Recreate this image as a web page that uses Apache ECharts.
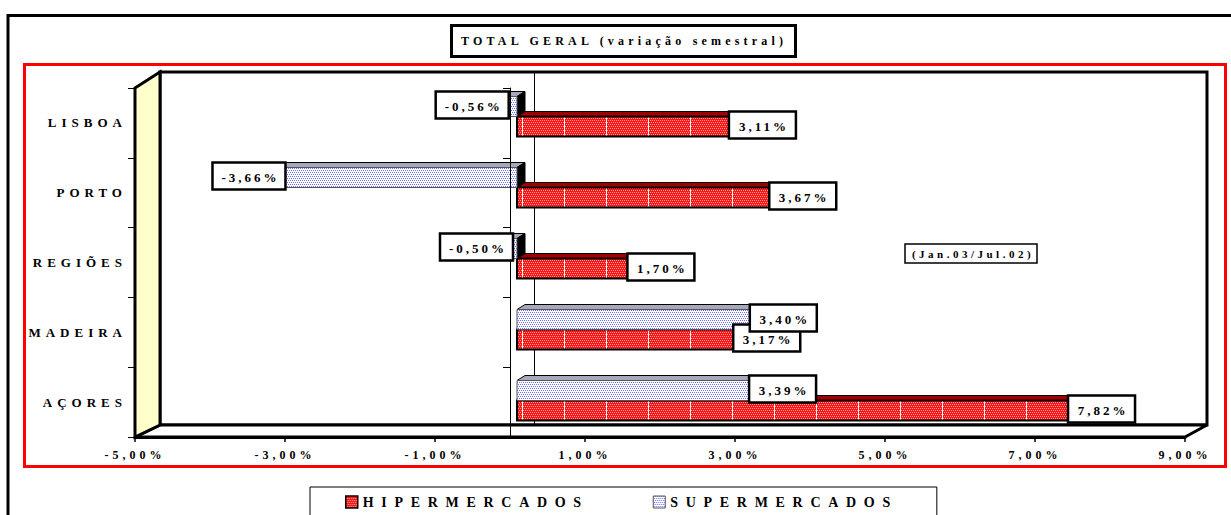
<!DOCTYPE html>
<html><head><meta charset="utf-8">
<script src="https://cdn.jsdelivr.net/npm/echarts@6/dist/echarts.min.js"></script>
<style>html,body{margin:0;padding:0;background:#fff}#c{width:1231px;height:515px}</style>
</head><body><div id="c"></div>
<script>
// ---------- data ----------
const categories = ['LISBOA', 'PORTO', 'REGIÕES', 'MADEIRA', 'AÇORES'];
const hiperValues = [3.11, 3.67, 1.70, 3.17, 7.82];
const superValues = [-0.56, -3.66, -0.50, 3.40, 3.39];
const axisTicks = [-5, -3, -1, 1, 3, 5, 7, 9];
const seriesNames = ['HIPERMERCADOS', 'SUPERMERCADOS'];
const titleText = 'TOTAL GERAL (variação semestral)';
const noteText = '(Jan.03/Jul.02)';

// ---------- styles ----------
const FONT = '"Liberation Serif", "Times New Roman", serif';
const pct = v => v.toFixed(2).replace('.', ',') + '%';

function makeRed(w, line) {
  const c = document.createElement('canvas'); c.width = w; c.height = 4;
  const g = c.getContext('2d');
  g.fillStyle = '#ff1414'; g.fillRect(0, 0, w, 4);
  g.fillStyle = '#ffa0a0';
  for (let y = 0; y < 4; y += 2) for (let x = (y / 2) % 2; x < w; x += 2) g.fillRect(x, y, 1, 1);
  if (line) { g.fillStyle = '#ffffff'; g.fillRect(18, 0, 1, 4); }
  return c;
}
function makeBlue() {
  const c = document.createElement('canvas'); c.width = 4; c.height = 4;
  const g = c.getContext('2d');
  g.fillStyle = '#ffffff'; g.fillRect(0, 0, 4, 4);
  g.fillStyle = '#6a6aff';
  [[0,0],[2,0],[1,2],[3,2]].forEach(p => g.fillRect(p[0], p[1], 1, 1));
  return c;
}
const redFill = { image: makeRed(42, true), repeat: 'repeat' };
const redIcon = { image: makeRed(4, false), repeat: 'repeat' };
const blueFill = { image: makeBlue(), repeat: 'repeat' };

const DX = 8, DY = -5, BAR_H = 20;
function barGeom(api, kind) {
  const v = api.value(0), idx = api.value(1);
  const p0 = api.coord([0, idx]), p1 = api.coord([v, idx]);
  const ctr = p0[1] + 1;
  const top = kind === 'super' ? ctr - BAR_H : ctr;
  return { v, x0: Math.min(p0[0], p1[0]), x1: Math.max(p0[0], p1[0]), end: p1[0], top, bot: top + BAR_H };
}
function renderBar(kind) {
  const st = kind === 'hiper'
    ? { front: redFill, top: '#a00000', end: '#5a0000', stroke: '#000', lw: 2 }
    : { front: blueFill, top: '#a8a8bc', end: '#000000', stroke: '#555', lw: 1 };
  return (params, api) => {
    const g = barGeom(api, kind);
    const { x0, x1, top, bot } = g;
    return { type: 'group', children: [
      { type: 'polygon', shape: { points: [[x0, top], [x0 + DX, top + DY], [x1 + DX, top + DY], [x1, top]] },
        style: { fill: st.top, stroke: '#000', lineWidth: 1 } },
      { type: 'polygon', shape: { points: [[x1, top], [x1 + DX, top + DY], [x1 + DX, bot + DY], [x1, bot]] },
        style: { fill: st.end, stroke: '#000', lineWidth: 1 } },
      { type: 'rect', shape: { x: x0, y: top, width: x1 - x0, height: BAR_H },
        style: { fill: st.front, stroke: st.stroke, lineWidth: st.lw } }
    ] };
  };
}
function renderLabel(kind) {
  return (params, api) => {
    const g = barGeom(api, kind);
    const txt = pct(g.v);
    const w = 37 + 6 * txt.length, h = 27;
    const bx = g.v >= 0 ? g.end - 12 : g.end + 32 - w;
    const by = g.top - 5;
    return { type: 'group', children: [
      { type: 'rect', shape: { x: bx, y: by, width: w, height: h }, style: { fill: '#fff', stroke: '#000', lineWidth: 2.5 } },
      { type: 'text', style: { text: txt, x: bx + w / 2 + 1.5, y: by + h / 2 + 1, align: 'center', verticalAlign: 'middle',
        font: 'bold 13px ' + FONT, fill: '#000' } }
    ] };
  };
}

const chart = echarts.init(document.getElementById('c'), null, { renderer: 'svg', width: 1231, height: 515 });
const catAxisBase = { type: 'category', data: categories, inverse: true };
chart.setOption({
  animation: false,
  backgroundColor: '#fff',
  title: {
    text: titleText, left: 451, top: 25, padding: [9, 142, 9, 10],
    borderColor: '#000', borderWidth: 3, backgroundColor: '#fff',
    textStyle: { fontFamily: FONT, fontWeight: 'bold', fontSize: 12, color: '#000', lineHeight: 14 }
  },
  legend: {
    left: 310, top: 487, orient: 'horizontal', selectedMode: false,
    data: [
      { name: seriesNames[0], icon: 'rect', itemStyle: { color: redIcon, borderColor: '#000', borderWidth: 1.5 } },
      { name: seriesNames[1], icon: 'rect', itemStyle: { color: blueFill, borderColor: '#555', borderWidth: 1 } }
    ],
    itemWidth: 12, itemHeight: 12, itemGap: 164,
    padding: [8, 139, 20, 35],
    backgroundColor: '#fff', borderColor: '#000', borderWidth: 1, borderRadius: 0,
    textStyle: { fontFamily: FONT, fontWeight: 'bold', fontSize: 14, color: '#000' }
  },
  grid: [
    { left: 135, right: 46, top: 88, bottom: 78, containLabel: false, outerBoundsMode: 'none' },
    { left: 157, right: 66, top: 80, bottom: 80, containLabel: false, outerBoundsMode: 'none' },
    { left: 160, right: 24, top: 72, bottom: 90, containLabel: false, outerBoundsMode: 'none',
      show: true, borderColor: '#000', borderWidth: 3, backgroundColor: '#fff', z: 0 }
  ],
  xAxis: [
    { gridIndex: 0, type: 'value', min: -5, max: 9, position: 'bottom', z: 6,
      axisLine: { show: true, onZero: false, lineStyle: { color: '#000', width: 3 } },
      axisTick: { show: true, length: 5, customValues: axisTicks, lineStyle: { color: '#000', width: 1.5 } },
      axisLabel: { customValues: axisTicks, formatter: pct, margin: 12, fontFamily: FONT, fontWeight: 'bold',
        fontSize: 12, color: '#000', showMinLabel: true, showMaxLabel: true, hideOverlap: false },
      splitLine: { show: false } },
    { gridIndex: 1, type: 'value', min: -5, max: 9, show: false, splitLine: { show: false } },
    { gridIndex: 2, type: 'value', min: -5, max: 9, show: false, splitLine: { show: false } }
  ],
  yAxis: [
    Object.assign({ gridIndex: 0, position: 'left', z: 6,
      axisLine: { show: false, onZero: false },
      axisTick: { show: true, length: 7, lineStyle: { color: '#000', width: 1 } },
      axisLabel: { margin: 8, fontFamily: FONT, fontWeight: 'bold', fontSize: 13, color: '#000' },
      splitLine: { show: false } }, catAxisBase),
    Object.assign({ gridIndex: 0, position: 'left', z: 6,
      axisLine: { show: true, onZero: true, lineStyle: { color: '#000', width: 1 } },
      axisTick: { show: true, length: 7, lineStyle: { color: '#000', width: 1 } },
      axisLabel: { show: false }, splitLine: { show: false } }, catAxisBase),
    Object.assign({ gridIndex: 1, show: false }, catAxisBase),
    Object.assign({ gridIndex: 2, position: 'left', z: 1,
      axisLine: { show: true, onZero: true, lineStyle: { color: '#000', width: 1 } },
      axisTick: { show: false }, axisLabel: { show: false }, splitLine: { show: false } }, catAxisBase)
  ],
  graphic: [
    { type: 'rect', z: 0, shape: { x: 8, y: 15.5, width: 1300, height: 600 }, style: { fill: 'none', stroke: '#000', lineWidth: 3 } },
    { type: 'rect', z: 0, shape: { x: 24.5, y: 64.5, width: 1201, height: 402 }, style: { fill: 'none', stroke: '#ff0000', lineWidth: 3 } },
    { type: 'polygon', z: 1, shape: { points: [[135, 437], [160, 425], [1207, 425], [1185, 437]] }, style: { fill: '#fff', stroke: '#000', lineWidth: 3 } },
    { type: 'polygon', z: 1, shape: { points: [[135, 88], [160, 72], [160, 425], [135, 437]] }, style: { fill: '#ffffcc', stroke: '#000', lineWidth: 3 } },
    { type: 'group', z: 5, children: [
      { type: 'rect', shape: { x: 905, y: 244, width: 132, height: 19 }, style: { fill: '#fff', stroke: '#000', lineWidth: 1.5 } },
      { type: 'text', style: { text: noteText, x: 973, y: 254, align: 'center', verticalAlign: 'middle', font: 'bold 11px ' + FONT, fill: '#000' } }
    ] }
  ],
  series: [
    { type: 'custom', name: seriesNames[0], xAxisIndex: 1, yAxisIndex: 2, z: 2, clip: false,
      encode: { x: 0, y: 1 }, data: hiperValues.map((v, i) => [v, i]), renderItem: renderBar('hiper'),
      itemStyle: { color: '#f01010' } },
    { type: 'custom', name: seriesNames[1], xAxisIndex: 1, yAxisIndex: 2, z: 3, clip: false,
      encode: { x: 0, y: 1 }, data: superValues.map((v, i) => [v, i]), renderItem: renderBar('super'),
      itemStyle: { color: '#d8d8ff' } },
    { type: 'custom', name: 'lblH', xAxisIndex: 1, yAxisIndex: 2, z: 7, clip: false, silent: true,
      encode: { x: 0, y: 1 }, data: hiperValues.map((v, i) => [v, i]), renderItem: renderLabel('hiper') },
    { type: 'custom', name: 'lblS', xAxisIndex: 1, yAxisIndex: 2, z: 8, clip: false, silent: true,
      encode: { x: 0, y: 1 }, data: superValues.map((v, i) => [v, i]), renderItem: renderLabel('super') }
  ]
});

// letter spacing (as in the original typeset chart)
const spacing = {};
spacing[titleText] = 4.2;
categories.forEach(c => spacing[c] = 5);
seriesNames.forEach(n => spacing[n] = 7.7);
spacing[noteText] = 3.5;
axisTicks.forEach(v => spacing[pct(v)] = 4);
hiperValues.concat(superValues).forEach(v => spacing[pct(v)] = 3);
function applySpacing() {
  document.querySelectorAll('#c text').forEach(t => {
    const ls = spacing[t.textContent];
    if (ls) t.setAttribute('letter-spacing', ls + 'px');
  });
}
applySpacing();
chart.on('finished', applySpacing);
setTimeout(applySpacing, 50);
setTimeout(applySpacing, 300);
</script>
</body></html>
